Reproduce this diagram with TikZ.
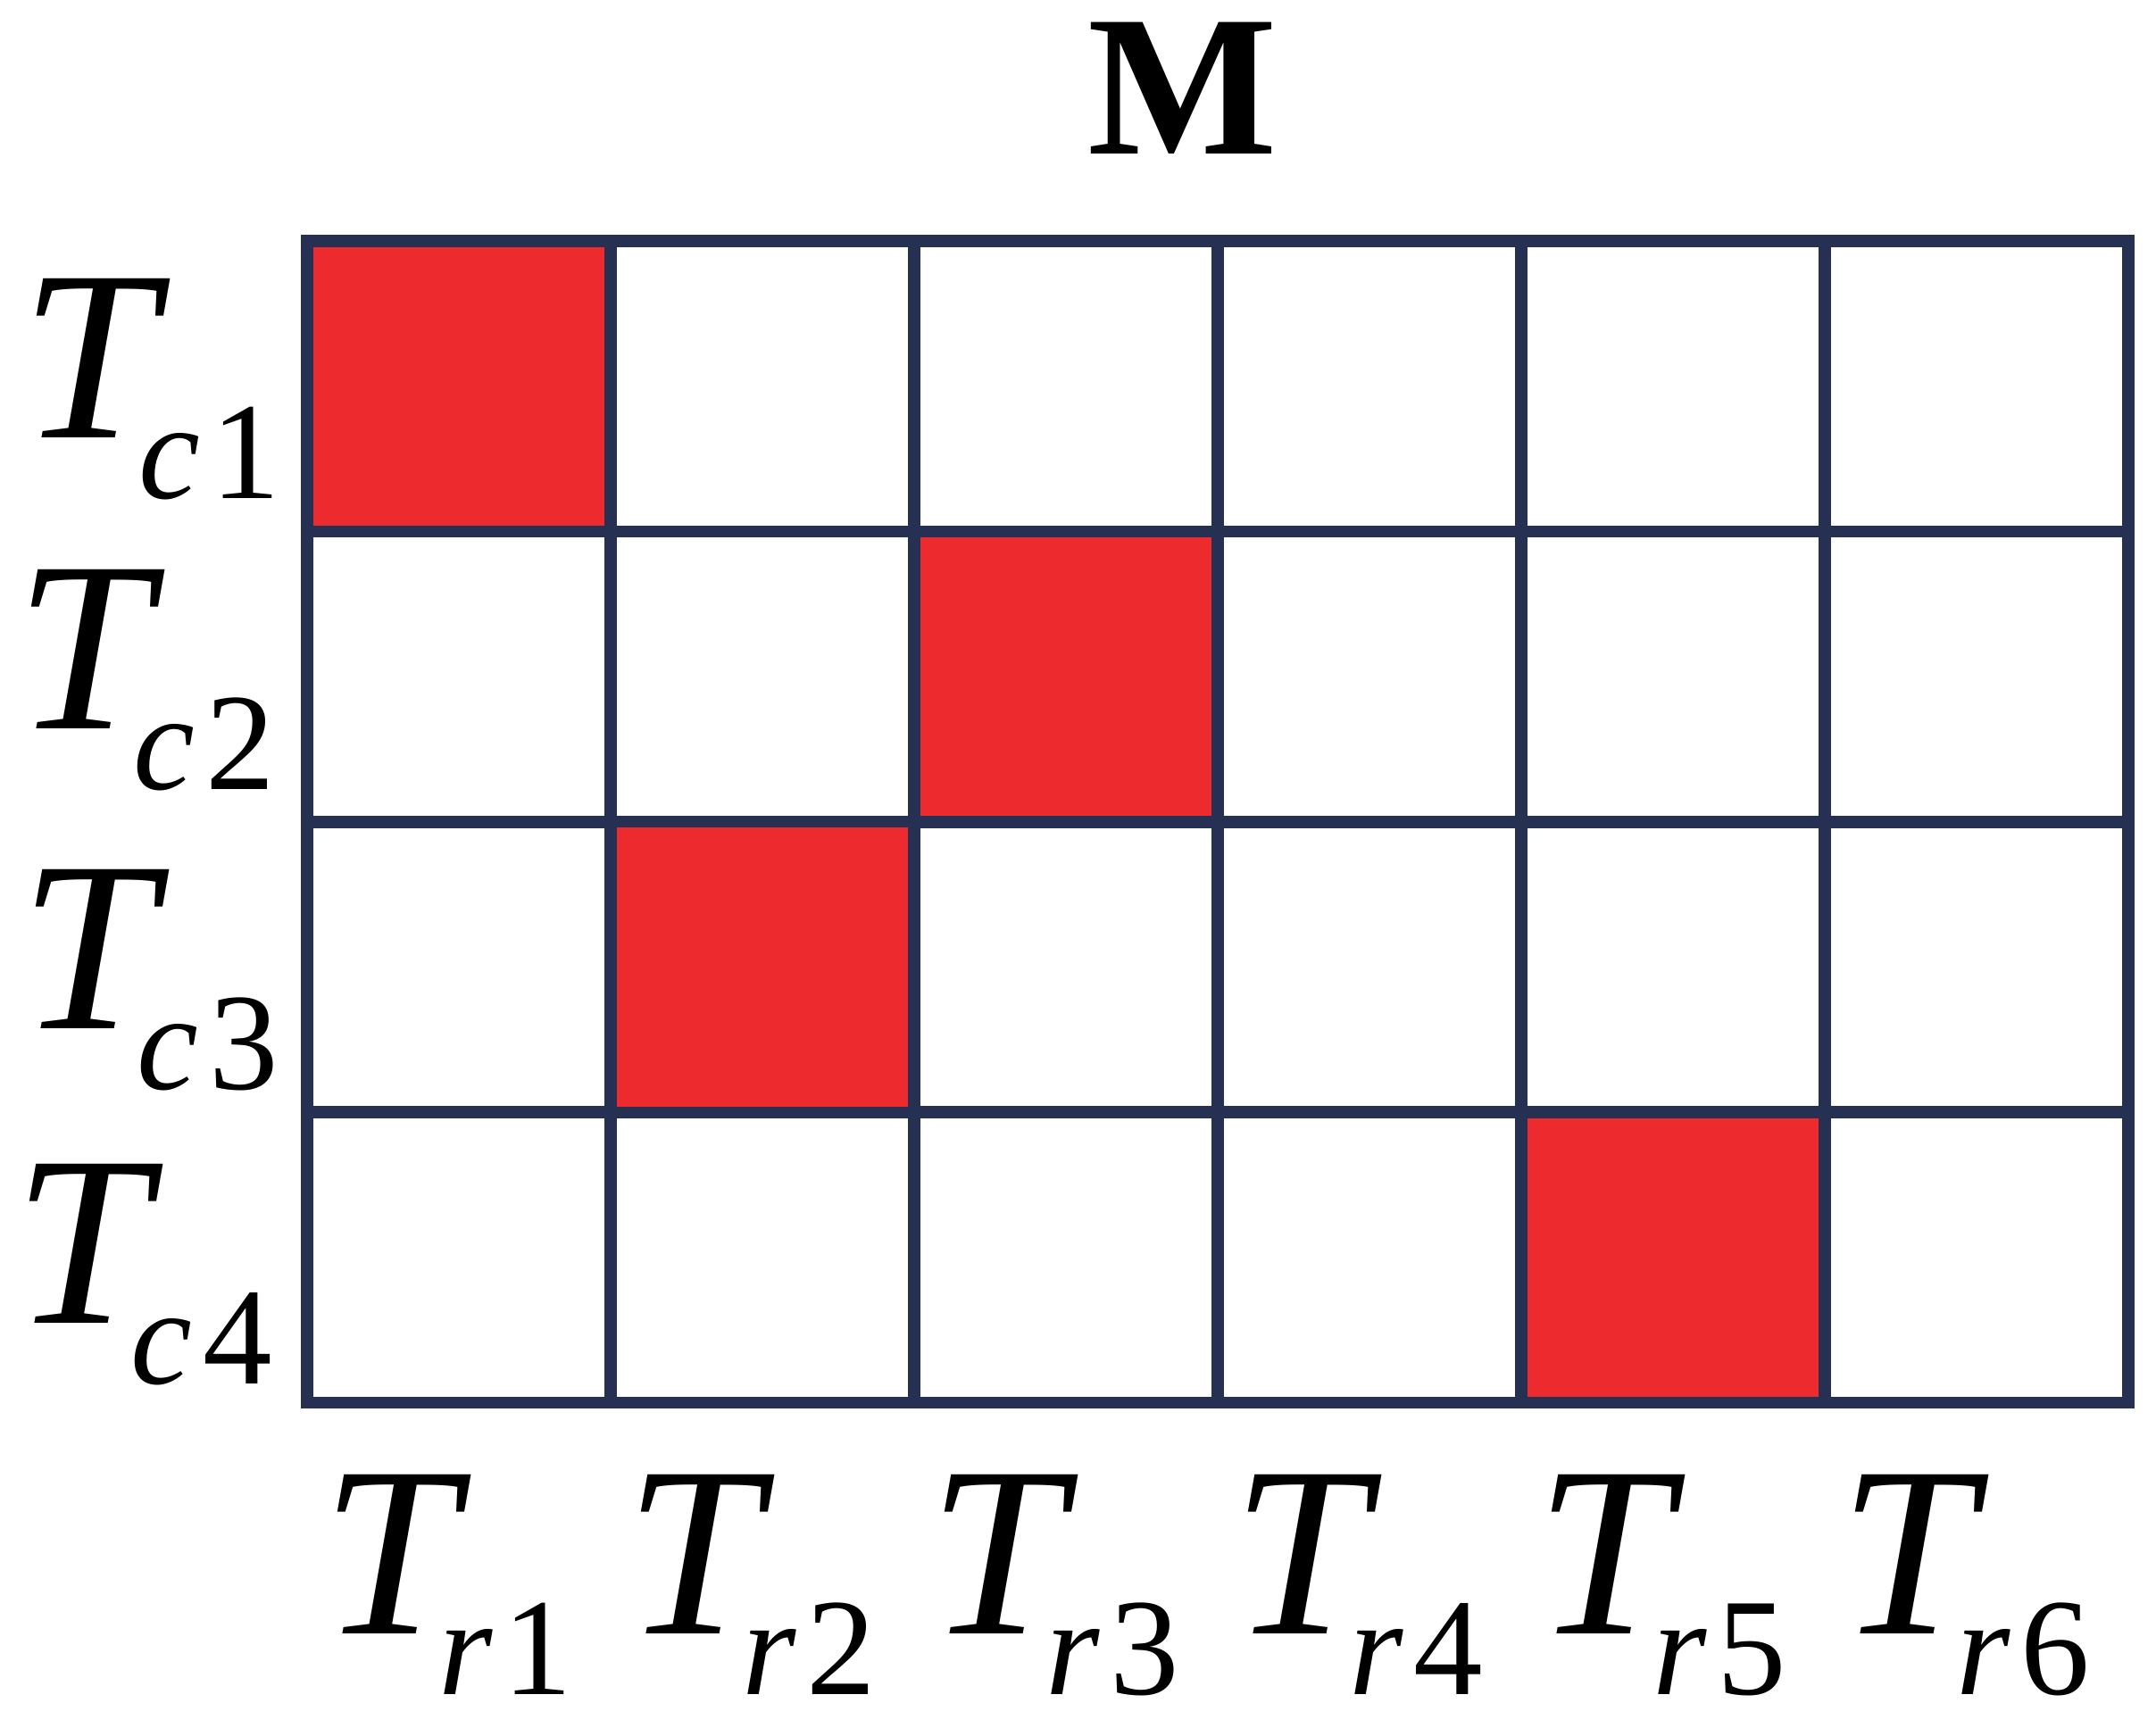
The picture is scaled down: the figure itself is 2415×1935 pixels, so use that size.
\documentclass[tikz,border=0pt]{standalone}
\usepackage{fontspec}
\setmainfont{LiberationSerif}[Extension=.ttf, UprightFont=*-Regular, ItalicFont=*-Italic, BoldFont=*-Bold, BoldItalicFont=*-BoldItalic]
\definecolor{gridnavy}{RGB}{37,48,82}
\definecolor{cellred}{RGB}{237,42,45}
\tikzset{
  cell/.style={draw=gridnavy, line width=0.135cm, minimum width=3.4cm, minimum height=3.254cm, inner sep=0pt, outer sep=0pt},
  hit/.style={cell, fill=cellred},
  lab/.style={anchor=base west, inner sep=0pt, outer sep=0pt},
}
\newcommand{\labT}{{\fontsize{77.4pt}{80pt}\selectfont\itshape T}}
\newcommand{\labsub}[2]{\kern-0.2cm\raisebox{-0.68cm}{\fontsize{44.1pt}{46pt}\selectfont\itshape #1\kern0.12cm\upshape #2}}
\begin{document}
\begin{tikzpicture}[x=0.01cm,y=-0.01cm]
\useasboundingbox (0,0) rectangle (2415,1935);
% grid cells
\foreach \r in {1,...,4}{
  \foreach \c in {1,...,6}{
    \node[cell] (m\r\c) at ({344+340*(\c-0.5)},{270+325.4*(\r-0.5)}) {};
  }
}
% highlighted cells
\node[hit] (h11) at (m11) {};
\node[hit] (h23) at (m23) {};
\node[hit] (h32) at (m32) {};
\node[hit] (h45) at (m45) {};
% title
\node[anchor=base, inner sep=0pt] (title) at (1325,172) {\fontsize{64pt}{66pt}\selectfont\bfseries M};
% row labels
\node[lab] (tc1) at (24,490) {\labT\labsub{c}{1}};
\node[lab] (tc2) at (18,816) {\labT\labsub{c}{2}};
\node[lab] (tc3) at (22,1152) {\labT\labsub{c}{3}};
\node[lab] (tc4) at (15,1482) {\labT\labsub{c}{4}};
% column labels
\foreach \c in {1,...,6}{
  \node[lab] (tr\c) at ({360+340*(\c-1)},1830) {\labT\labsub{r}{\c}};
}
\end{tikzpicture}
\end{document}
